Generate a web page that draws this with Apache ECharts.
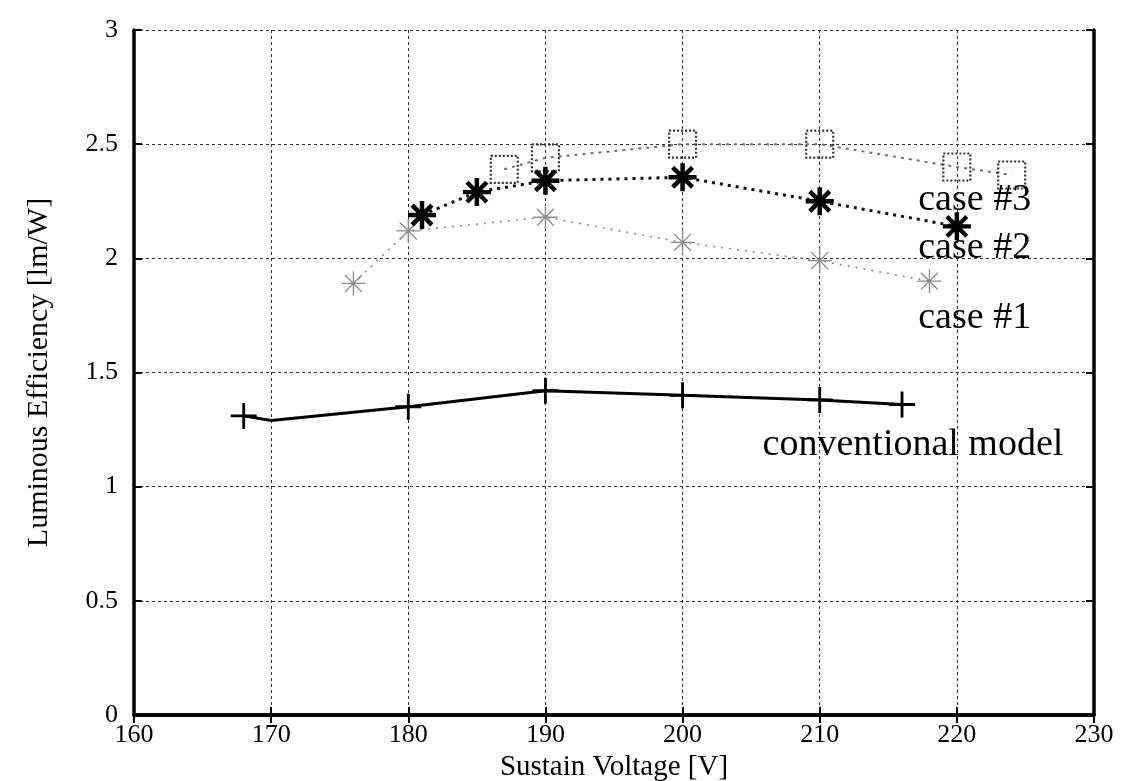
<!DOCTYPE html>
<html>
<head>
<meta charset="utf-8">
<script src="https://cdn.jsdelivr.net/npm/echarts@6/dist/echarts.min.js"></script>
<style>
html, body { margin: 0; padding: 0; background: #fff; }
#chart { width: 1138px; height: 781px; }
</style>
</head>
<body>
<div id="chart"></div>
<script>
// values
const convVoltage = [168, 170, 180, 190, 200, 210, 216]
const convEff = [1.31, 1.29, 1.35, 1.42, 1.40, 1.38, 1.36]
const convMarked = [true, false, true, true, true, true, true]

const case1Voltage = [176, 180, 190, 200, 210, 218]
const case1Eff = [1.89, 2.12, 2.18, 2.07, 1.99, 1.90]

const case2Voltage = [181, 185, 190, 200, 210, 220]
const case2Eff = [2.19, 2.29, 2.34, 2.355, 2.25, 2.14]

const case3Voltage = [187, 190, 200, 210, 220, 224]
const case3Eff = [2.39, 2.44, 2.50, 2.50, 2.40, 2.365]

const noteTexts = ['case #3', 'case #2', 'case #1', 'conventional model']
const noteVoltage = [221.3, 221.3, 221.3, 216.8]
const noteEff = [2.256, 2.045, 1.739, 1.183]

const serif = "'Liberation Serif', 'Times New Roman', serif"

// marker shapes made of thin bars
const armsPath = (angles, len, w) => {
  let d = ''
  angles.forEach((deg) => {
    const a = (deg * Math.PI) / 180
    const cx = Math.cos(a), cy = Math.sin(a)
    const nx = -cy, ny = cx
    const pts = [
      [cx * len + nx * w, cy * len + ny * w],
      [cx * len - nx * w, cy * len - ny * w],
      [-cx * len - nx * w, -cy * len - ny * w],
      [-cx * len + nx * w, -cy * len + ny * w],
    ]
    d += 'M' + pts.map((p) => p[0].toFixed(3) + ',' + p[1].toFixed(3)).join(' L') + ' Z '
  })
  return 'path://' + d
}
const plusSymbol = armsPath([0, 90], 10, 1.1)
const starBold = armsPath([0, 45, 90, 135], 10, 1.6)
const starThin = armsPath([0, 45, 90, 135], 10, 0.55)

const pairs = (xs, ys) => xs.map((x, i) => [x, ys[i]])

const chart = echarts.init(document.getElementById('chart'))

const frameLine = { lineStyle: { color: '#000', width: 3.5 } }
const innerTick = { show: true, inside: true, length: 8, lineStyle: { color: '#000', width: 2 } }
const gridLine = { show: true, lineStyle: { color: '#333', width: 1, type: [3, 3] } }

const option = {
  animation: false,
  backgroundColor: '#fff',
  grid: { left: 134, right: 44, top: 30, bottom: 66, outerBoundsMode: 'none' },
  xAxis: [
    {
      type: 'value', min: 160, max: 230, interval: 10,
      name: 'Sustain Voltage [V]', nameLocation: 'middle', nameGap: 34,
      nameTextStyle: { fontFamily: serif, fontSize: 29, color: '#000' },
      axisLine: frameLine, axisTick: innerTick, splitLine: gridLine,
      axisLabel: { fontFamily: serif, fontSize: 26, color: '#000', margin: 7 },
    },
    {
      type: 'value', min: 160, max: 230, interval: 10, position: 'top',
      axisLine: frameLine, axisTick: innerTick, splitLine: { show: false },
      axisLabel: { show: false },
    },
  ],
  yAxis: [
    {
      type: 'value', min: 0, max: 3, interval: 0.5,
      name: 'Luminous Efficiency [lm/W]', nameLocation: 'middle', nameGap: 80,
      nameTextStyle: { fontFamily: serif, fontSize: 30, color: '#000' },
      axisLine: { show: true, ...frameLine }, axisTick: innerTick, splitLine: gridLine,
      axisLabel: { fontFamily: serif, fontSize: 26, color: '#000', margin: 16 },
    },
    {
      type: 'value', min: 0, max: 3, interval: 0.5, position: 'right',
      axisLine: { show: true, ...frameLine }, axisTick: innerTick, splitLine: { show: false },
      axisLabel: { show: false },
    },
  ],
  series: [
    {
      name: 'conventional model',
      type: 'line',
      data: convVoltage.map((x, i) =>
        convMarked[i] ? [x, convEff[i]] : { value: [x, convEff[i]], symbol: 'none' }
      ),
      symbol: plusSymbol,
      symbolSize: 26,
      itemStyle: { color: '#000' },
      lineStyle: { color: '#000', width: 3 },
      z: 5,
    },
    {
      name: 'case #1',
      type: 'line',
      data: pairs(case1Voltage, case1Eff),
      symbol: starThin,
      symbolSize: 24,
      itemStyle: { color: '#8c8c8c' },
      lineStyle: { color: '#8c8c8c', width: 1.6, type: [2, 6] },
    },
    {
      name: 'case #3',
      type: 'line',
      data: pairs(case3Voltage, case3Eff),
      symbol: 'rect',
      symbolSize: 27,
      itemStyle: { color: 'rgba(0,0,0,0)', borderColor: '#333', borderWidth: 2.2, borderType: [2, 2] },
      lineStyle: { color: '#6e6e6e', width: 2, type: [3, 5] },
    },
    {
      name: 'case #2',
      type: 'line',
      data: pairs(case2Voltage, case2Eff),
      symbol: starBold,
      symbolSize: 28,
      itemStyle: { color: '#000' },
      lineStyle: { color: '#111', width: 3, type: [3, 5] },
      z: 4,
    },
  ],
}

chart.setOption(option)

// text notes next to the curves, placed through the axes
chart.setOption({
  graphic: noteTexts.map((t, i) => {
    const p = chart.convertToPixel({ gridIndex: 0 }, [noteVoltage[i], noteEff[i]])
    return {
      type: 'text',
      x: p[0],
      y: p[1],
      z: 10,
      style: {
        text: t,
        fontFamily: serif,
        fontSize: 38,
        fill: '#000',
        align: 'center',
        verticalAlign: 'middle',
      },
    }
  }),
})
</script>
</body>
</html>
